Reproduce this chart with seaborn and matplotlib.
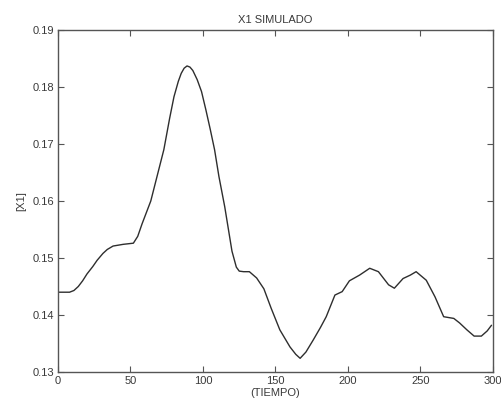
import numpy as np
import pandas as pd
import matplotlib
matplotlib.use('Agg')
import matplotlib.pyplot as plt
import seaborn as sns

# valores
tiempo = [0, 8, 11, 14, 17, 20, 24, 27, 31, 34, 38, 45, 52, 55, 58, 61, 64, 69, 73, 77,
          80, 83, 85, 87, 89, 91, 93, 96, 99, 102, 105, 108, 111, 115, 120, 123, 125, 128,
          132, 137, 142, 147, 153, 160, 164, 167, 171, 176, 181, 185, 191, 196, 201, 208,
          215, 221, 228, 232, 238, 243, 247, 254, 260, 266, 273, 277, 282, 287, 292, 296, 299]
x1 = [0.1440, 0.1440, 0.1443, 0.1450, 0.1460, 0.1472, 0.1485, 0.1496, 0.1508, 0.1515,
      0.1521, 0.1524, 0.1526, 0.1538, 0.1560, 0.1580, 0.1600, 0.1650, 0.1690, 0.1745,
      0.1783, 0.1810, 0.1824, 0.1833, 0.1837, 0.1835, 0.1829, 0.1813, 0.1792, 0.1760,
      0.1726, 0.1690, 0.1643, 0.1590, 0.1512, 0.1484, 0.1477, 0.1476, 0.1476, 0.1465,
      0.1446, 0.1412, 0.1374, 0.1344, 0.1331, 0.1324, 0.1335, 0.1356, 0.1378, 0.1397,
      0.1435, 0.1441, 0.1460, 0.1470, 0.1482, 0.1476, 0.1453, 0.1447, 0.1464, 0.1470,
      0.1476, 0.1461, 0.1432, 0.1397, 0.1394, 0.1386, 0.1374, 0.1363, 0.1363, 0.1372,
      0.1382]
xticks = [0, 50, 100, 150, 200, 250, 300]
yticks = [0.13, 0.14, 0.15, 0.16, 0.17, 0.18, 0.19]

df = pd.DataFrame({'TIEMPO': tiempo, 'X1': x1})

sns.set_style('white')
plt.rcParams['font.family'] = ['Liberation Sans', 'DejaVu Sans']

txt = '#3a3a3a'
fig = plt.figure(figsize=(5.02, 4.12), dpi=100)
ax = fig.add_axes([0.1155, 0.0971, 0.8665, 0.830])
sns.lineplot(data=df, x='TIEMPO', y='X1', ax=ax, color='#2e2e2e', linewidth=1.0)

ax.set_xlim(0, 300)
ax.set_ylim(0.13, 0.19)
ax.set_xticks(xticks)
ax.set_yticks(yticks)
ax.set_xticklabels([str(t) for t in xticks])
ax.set_yticklabels(['%.2f' % t for t in yticks])
ax.tick_params(direction='in', length=4, width=0.8, colors='#555555', labelcolor=txt,
               labelsize=8, top=True, right=True, bottom=True, left=True, pad=3)
for s in ax.spines.values():
    s.set_color('#555555')
    s.set_linewidth(1.0)

ax.set_title('X1 SIMULADO', fontsize=8, color=txt, pad=5)
ax.set_xlabel('(TIEMPO)', fontsize=8, color=txt, labelpad=1)
ax.set_ylabel('[X1]', fontsize=8, color=txt, labelpad=4)

fig.savefig('out.png', dpi=100)
